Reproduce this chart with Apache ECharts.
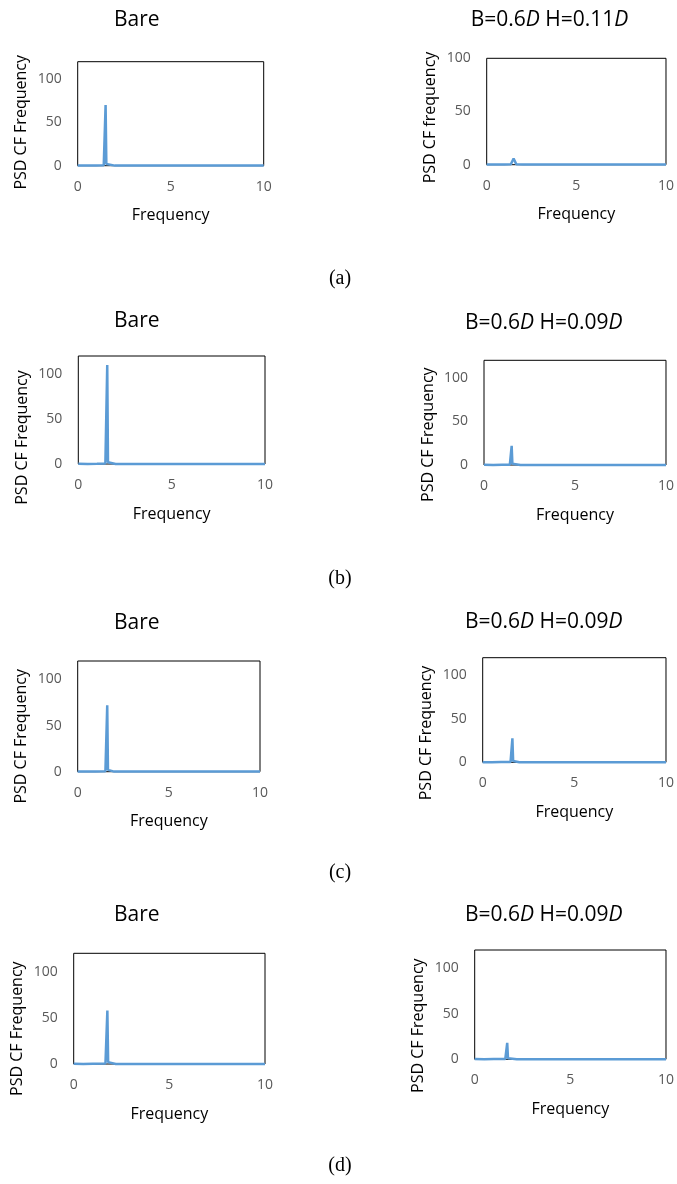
<!DOCTYPE html>
<html>
<head>
<meta charset="utf-8">
<script src="https://cdn.jsdelivr.net/npm/echarts@6/dist/echarts.min.js"></script>
<style>html,body{margin:0;padding:0;background:#fff}#c{width:677px;height:1184px}</style>
</head>
<body>
<div id="c"></div>
<script>
// ---------------- DATA ----------------
const xTickValues = [0, 5, 10];
const yTickValues = [0, 50, 100];
const yMaxes = [120, 100, 120, 120, 120, 120, 120, 120];

const titles = ['Bare', 'B=0.6D H=0.11D', 'Bare', 'B=0.6D H=0.09D', 'Bare', 'B=0.6D H=0.09D', 'Bare', 'B=0.6D H=0.09D'];
const yNames = ['PSD CF Frequency', 'PSD CF frequency', 'PSD CF Frequency', 'PSD CF Frequency', 'PSD CF Frequency', 'PSD CF Frequency', 'PSD CF Frequency', 'PSD CF Frequency'];
const xName = 'Frequency';
const panelLabels = ['(a)', '(b)', '(c)', '(d)'];

// (a) Bare
const freqA1 = [0, 0.5, 1.0, 1.4, 1.46, 1.5, 1.54, 1.6, 2.0, 3.0, 3.05, 3.1, 4.5, 4.55, 4.6, 6.0, 6.05, 6.1, 8.0, 10.0];
const psdA1  = [0.2, 0.1, 0.3, 0.5, 2, 70, 2, 0.4, 0.1, 0.1, 0.8, 0.1, 0.1, 0.6, 0.1, 0.1, 0.9, 0.1, 0.1, 0.1];
// (a) B=0.6D H=0.11D
const freqA2 = [0, 0.5, 1.0, 1.35, 1.42, 1.5, 1.58, 1.65, 2.0, 4.0, 7.2, 7.3, 7.4, 9.0, 10.0];
const psdA2  = [0.2, 0.1, 0.2, 0.4, 3, 5.7, 3, 0.4, 0.1, 0.1, 0.1, 1.0, 0.1, 0.1, 0.1];
// (b) Bare
const freqB1 = [0, 0.5, 1.0, 1.45, 1.51, 1.55, 1.59, 1.65, 2.0, 3.0, 3.05, 3.1, 6.3, 6.35, 6.4, 8.0, 10.0];
const psdB1  = [0.2, 0.1, 0.3, 0.5, 2, 110, 2, 0.4, 0.1, 0.1, 0.7, 0.1, 0.1, 0.8, 0.1, 0.1, 0.1];
// (b) B=0.6D H=0.09D
const freqB2 = [0, 0.5, 1.0, 1.42, 1.48, 1.52, 1.56, 1.62, 2.0, 4.0, 7.5, 7.6, 7.7, 9.0, 10.0];
const psdB2  = [0.2, 0.1, 0.4, 0.4, 1.5, 22, 1.5, 0.4, 0.1, 0.1, 0.1, 1.0, 0.1, 0.1, 0.1];
// (c) Bare
const freqC1 = [0, 0.5, 1.0, 1.52, 1.58, 1.62, 1.66, 1.72, 2.0, 3.15, 3.2, 3.25, 6.45, 6.5, 6.55, 8.0, 10.0];
const psdC1  = [0.2, 0.1, 0.3, 0.5, 2, 72, 2, 0.4, 0.1, 0.1, 0.8, 0.1, 0.1, 1.0, 0.1, 0.1, 0.1];
// (c) B=0.6D H=0.09D
const freqC2 = [0, 0.5, 1.0, 1.52, 1.58, 1.62, 1.66, 1.72, 2.0, 4.0, 7.8, 7.9, 8.0, 9.0, 10.0];
const psdC2  = [0.2, 0.1, 0.3, 0.4, 1.5, 27.5, 1.5, 0.4, 0.1, 0.1, 0.1, 0.8, 0.1, 0.1, 0.1];
// (d) Bare
const freqD1 = [0, 0.5, 1.0, 1.66, 1.72, 1.76, 1.8, 1.86, 2.2, 3.5, 3.55, 3.6, 7.05, 7.1, 7.15, 8.5, 10.0];
const psdD1  = [0.2, 0.1, 0.3, 0.5, 2, 58, 2, 0.4, 0.1, 0.1, 0.6, 0.1, 0.1, 0.9, 0.1, 0.1, 0.1];
// (d) B=0.6D H=0.09D
const freqD2 = [0, 0.5, 1.0, 1.6, 1.66, 1.7, 1.74, 1.8, 2.2, 4.0, 8.2, 8.3, 8.4, 9.2, 10.0];
const psdD2  = [0.2, 0.1, 0.3, 0.4, 1.2, 18, 1.2, 0.4, 0.1, 0.1, 0.1, 0.6, 0.1, 0.1, 0.1];

const freqs = [freqA1, freqA2, freqB1, freqB2, freqC1, freqC2, freqD1, freqD2];
const psds  = [psdA1, psdA2, psdB1, psdB2, psdC1, psdC2, psdD1, psdD2];

// ---------------- LAYOUT ----------------
const layout = [
  {g: [77.7, 61.7, 186, 104],     t: [136.7, 20],    yo: 8.6},
  {g: [486.7, 58.3, 180.3, 106.4], t: [549.5, 20],    yo: 6},
  {g: [78.3, 356, 186.7, 108],    t: [136.7, 320.7], yo: 27.5},
  {g: [484, 360.3, 184, 104.7],   t: [543.7, 323.3], yo: 22},
  {g: [77.7, 661, 182.3, 110.7],  t: [136.7, 622.7], yo: 20},
  {g: [482.7, 657.7, 187, 104.6], t: [543.7, 621.7], yo: 23},
  {g: [73.7, 953.3, 191.3, 110.7], t: [136.7, 915],  yo: 20},
  {g: [474.7, 950, 194.7, 109.3], t: [543.7, 915],   yo: 21}
];
const labelPos = [[340, 279], [340, 579], [340, 873], [340, 1166]];

const FONT = '"Open Sans", "Noto Sans", sans-serif';
const chart = echarts.init(document.getElementById('c'), null, {renderer: 'canvas'});

const grid = [], xAxis = [], yAxis = [], series = [], title = [];
layout.forEach((p, i) => {
  grid.push({left: p.g[0], top: p.g[1], width: p.g[2], height: p.g[3], show: true,
    borderColor: '#000', borderWidth: 1, backgroundColor: 'transparent', containLabel: false});
  xAxis.push({type: 'value', gridIndex: i, min: xTickValues[0], max: xTickValues[xTickValues.length - 1],
    interval: xTickValues[1] - xTickValues[0],
    axisLine: {show: false}, axisTick: {show: false}, splitLine: {show: false},
    axisLabel: {color: '#595959', fontSize: 14, fontFamily: FONT, margin: 14},
    name: xName, nameLocation: 'middle', nameGap: 42,
    nameTextStyle: {color: '#000', fontSize: 16, fontFamily: FONT}});
  yAxis.push({type: 'value', gridIndex: i, min: yTickValues[0], max: yMaxes[i],
    interval: yTickValues[1] - yTickValues[0],
    axisLine: {show: false}, axisTick: {show: false}, splitLine: {show: false},
    axisLabel: {color: '#595959', fontSize: 14, fontFamily: FONT, margin: 16,
      formatter: v => (yTickValues.indexOf(v) >= 0 ? String(v) : '')},
    name: yNames[i], nameLocation: 'middle', nameGap: 48,
    nameTextStyle: {color: '#000', fontSize: 16, fontFamily: FONT, padding: [0, 2 * p.yo, 0, 0]}});
  series.push({type: 'line', xAxisIndex: i, yAxisIndex: i, showSymbol: false, symbol: 'none', clip: false,
    lineStyle: {color: '#5B9BD5', width: 2.5}, data: freqs[i].map((f, k) => [f, psds[i][k]]), animation: false});
  title.push({text: titles[i].replace(/D/g, '{i|D}'), left: p.t[0], top: p.t[1], padding: 0,
    textAlign: 'center', textVerticalAlign: 'middle',
    textStyle: {fontFamily: FONT, fontSize: 21, fontWeight: 'normal', color: '#000',
      rich: {i: {fontFamily: FONT, fontSize: 21, fontStyle: 'italic', color: '#000'}}}});
});
panelLabels.forEach((s, k) => {
  title.push({text: s, left: labelPos[k][0], top: labelPos[k][1], padding: 0,
    textAlign: 'center', textVerticalAlign: 'middle',
    textStyle: {fontFamily: '"Liberation Serif", "Times New Roman", serif', fontSize: 20, fontWeight: 'normal', color: '#000'}});
});

chart.setOption({animation: false, backgroundColor: '#fff', title, grid, xAxis, yAxis, series});
</script>
</body>
</html>
